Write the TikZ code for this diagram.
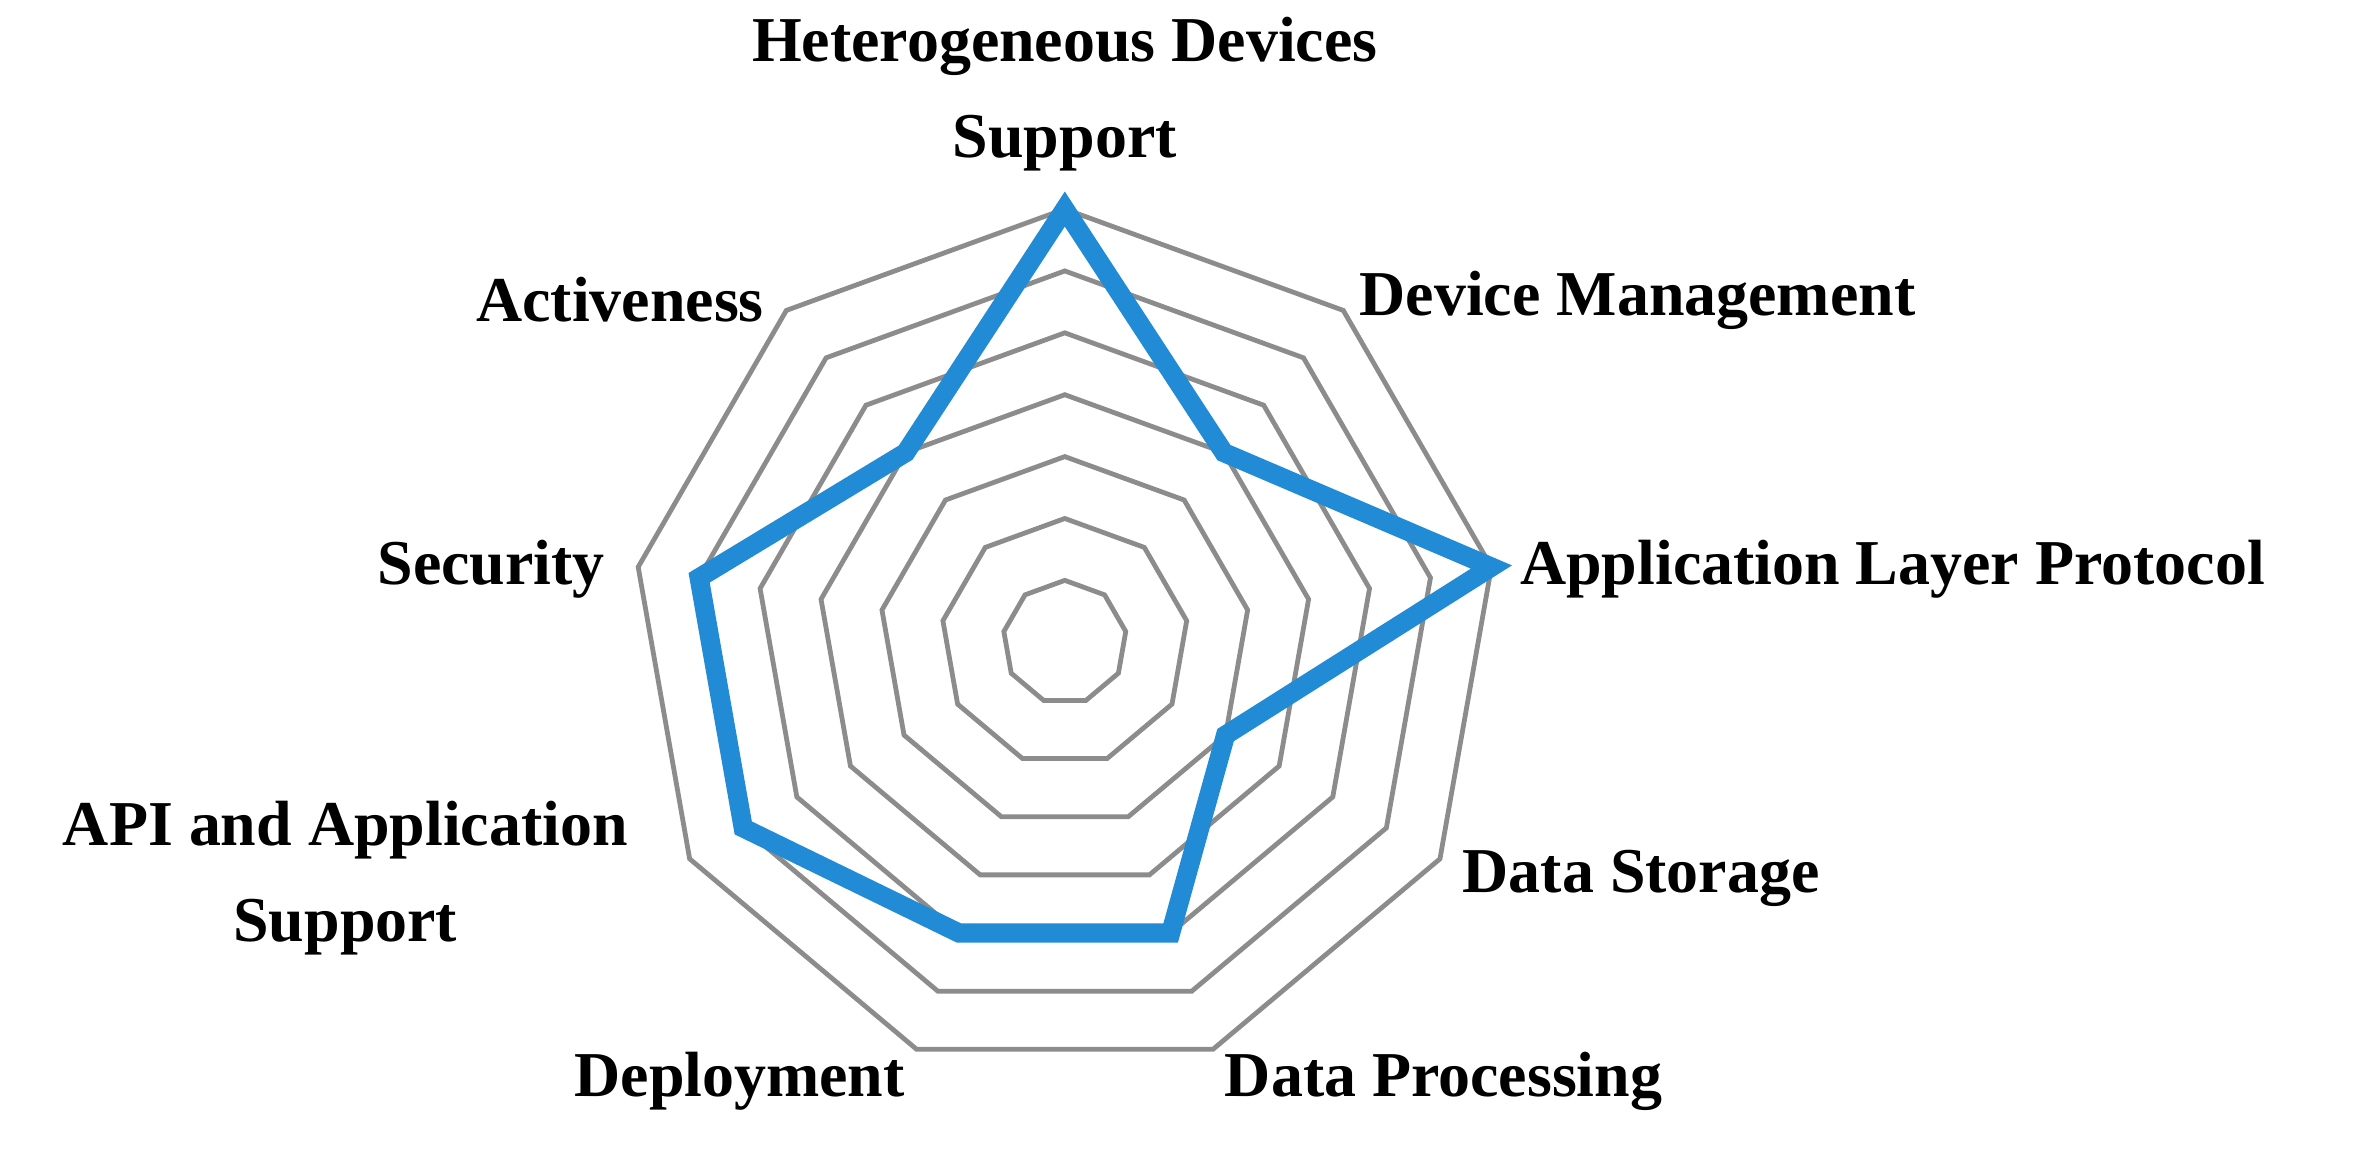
\documentclass[tikz,border=0pt]{standalone}
\usepackage{fontspec}
\setmainfont{Liberation Serif}
\definecolor{ringgray}{RGB}{140,140,140}
\definecolor{datablue}{RGB}{34,139,214}
\begin{document}
\begin{tikzpicture}[x=0.01cm,y=-0.01cm,
  ring/.style={draw=ringgray,line width=0.9pt,line join=miter},
  series/.style={draw=datablue,line width=3.6pt,line join=miter},
  lab/.style={font=\fontsize{12}{14}\selectfont\bfseries,inner sep=0pt,align=center}]
\useasboundingbox (0,0) rectangle (1568,759);
\def\cx{703}\def\cy{424}\def\R{286}
% rings
\foreach \k in {1,...,7}{
  \draw[ring] ({\cx},{\cy-\R*\k/7}) \foreach \i in {1,...,8}{
     -- ({\cx+\R*\k/7*cos(90-40*\i)},{\cy-\R*\k/7*sin(90-40*\i)})} -- cycle;
}
% data
\foreach \i/\v in {0/7,1/4,2/7,3/3,4/5,5/5,6/6,7/6,8/4}{
  \coordinate (p\i) at ({\cx+\R*\v/7*cos(90-40*\i)},{\cy-\R*\v/7*sin(90-40*\i)});
}
\draw[series] (p0)--(p1)--(p2)--(p3)--(p4)--(p5)--(p6)--(p7)--(p8)--cycle;
% labels
\node[lab] (het) at (703,62) {Heterogeneous Devices\\[4pt]Support};
\node[lab,anchor=east] (act) at (505,198) {Activeness};
\node[lab,anchor=west] (dev) at (897,198) {Device Management};
\node[lab,anchor=west] (app) at (1003,376) {Application Layer Protocol};
\node[lab,anchor=east] (sec) at (400,376) {Security};
\node[lab] (api) at (228,580) {API and Application\\[4pt]Support};
\node[lab,anchor=west] (dst) at (965,580) {Data Storage};
\node[lab,anchor=east] (dep) at (598,714) {Deployment};
\node[lab,anchor=west] (dpr) at (808,714) {Data Processing};
\end{tikzpicture}
\end{document}
